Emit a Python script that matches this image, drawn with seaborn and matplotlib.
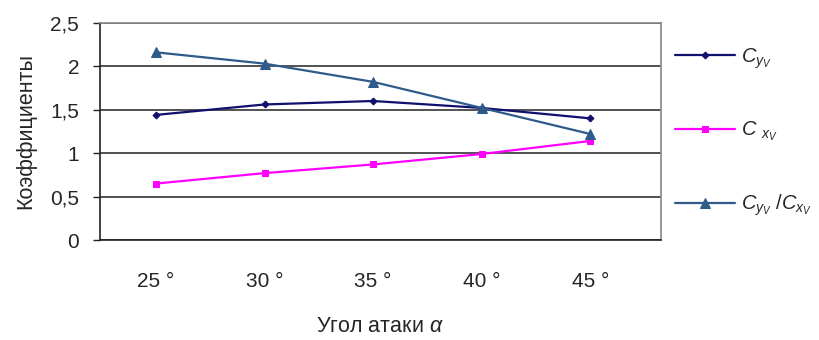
import numpy as np
import pandas as pd
import matplotlib
matplotlib.use("Agg")
import matplotlib.pyplot as plt
import seaborn as sns

# data
angles = ["25 °", "30 °", "35 °", "40 °", "45 °"]
cy = [1.44, 1.56, 1.60, 1.52, 1.40]
cx = [0.65, 0.77, 0.87, 0.99, 1.14]
ratio = [2.16, 2.03, 1.82, 1.52, 1.22]

labels = [r"$C_{y_V}$", r"$C\ _{x_V}$", r"$C_{y_V}\ /C_{x_V}$"]
colors = ["#10106e", "#ff00ff", "#2f5b8a"]
markers = ["D", "s", "^"]
msizes = [3.5, 5, 7]

sns.set_style("white")
plt.rcParams["font.family"] = ["Liberation Sans", "DejaVu Sans"]
plt.rcParams["mathtext.fontset"] = "custom"
plt.rcParams["mathtext.it"] = "Liberation Sans:italic"
plt.rcParams["mathtext.rm"] = "Liberation Sans"

fig = plt.figure(figsize=(8.19, 3.40), dpi=100)
ax = fig.add_axes([0.122, 0.294, 0.685, 0.639])

dt = pd.DataFrame({"angle": angles, "cy": cy, "cx": cx, "ratio": ratio})
for col, lab, c, m, ms in zip(["cy", "cx", "ratio"], labels, colors, markers, msizes):
    sns.lineplot(data=dt, x="angle", y=col, ax=ax, color=c, marker=m,
                 markersize=ms, markeredgecolor=c, linewidth=1.6, label=lab, sort=False)

ax.set_xlim(-0.516, 4.65)
ax.set_ylim(0, 2.5)
ax.set_yticks([0, 0.5, 1, 1.5, 2, 2.5])
ax.set_yticklabels(["0", "0,5", "1", "1,5", "2", "2,5"])
ax.yaxis.grid(True, color="#222222", linewidth=1.1)
ax.set_axisbelow(True)

ax.set_xticks(range(len(angles)))
ax.set_xticklabels(angles)
ax.set_xticks([0.5, 1.5, 2.5, 3.5], minor=True)
ax.tick_params(axis="x", which="major", length=0, pad=23, labelsize=15)
ax.tick_params(axis="x", which="minor", length=6, width=1, color="#222222", direction="out")
ax.tick_params(axis="y", which="major", length=5, width=1, color="#222222",
               direction="out", left=True, labelsize=15, pad=10)

for s in ["left", "bottom"]:
    ax.spines[s].set_color("#222222")
    ax.spines[s].set_linewidth(1.2)
for s in ["top", "right"]:
    ax.spines[s].set_color("#888888")
    ax.spines[s].set_linewidth(1.2)

ax.set_ylabel("Коэффициенты", fontsize=15.5, labelpad=10)
ax.set_xlabel(r"Угол атаки $\alpha$", fontsize=15.5, labelpad=18)

ax.legend(loc="upper left", bbox_to_anchor=(1.01, 0.93), frameon=False,
          fontsize=14.5, labelspacing=2.45, handlelength=3.0, handletextpad=0.3,
          borderaxespad=0)

fig.savefig("out.png", dpi=100)
